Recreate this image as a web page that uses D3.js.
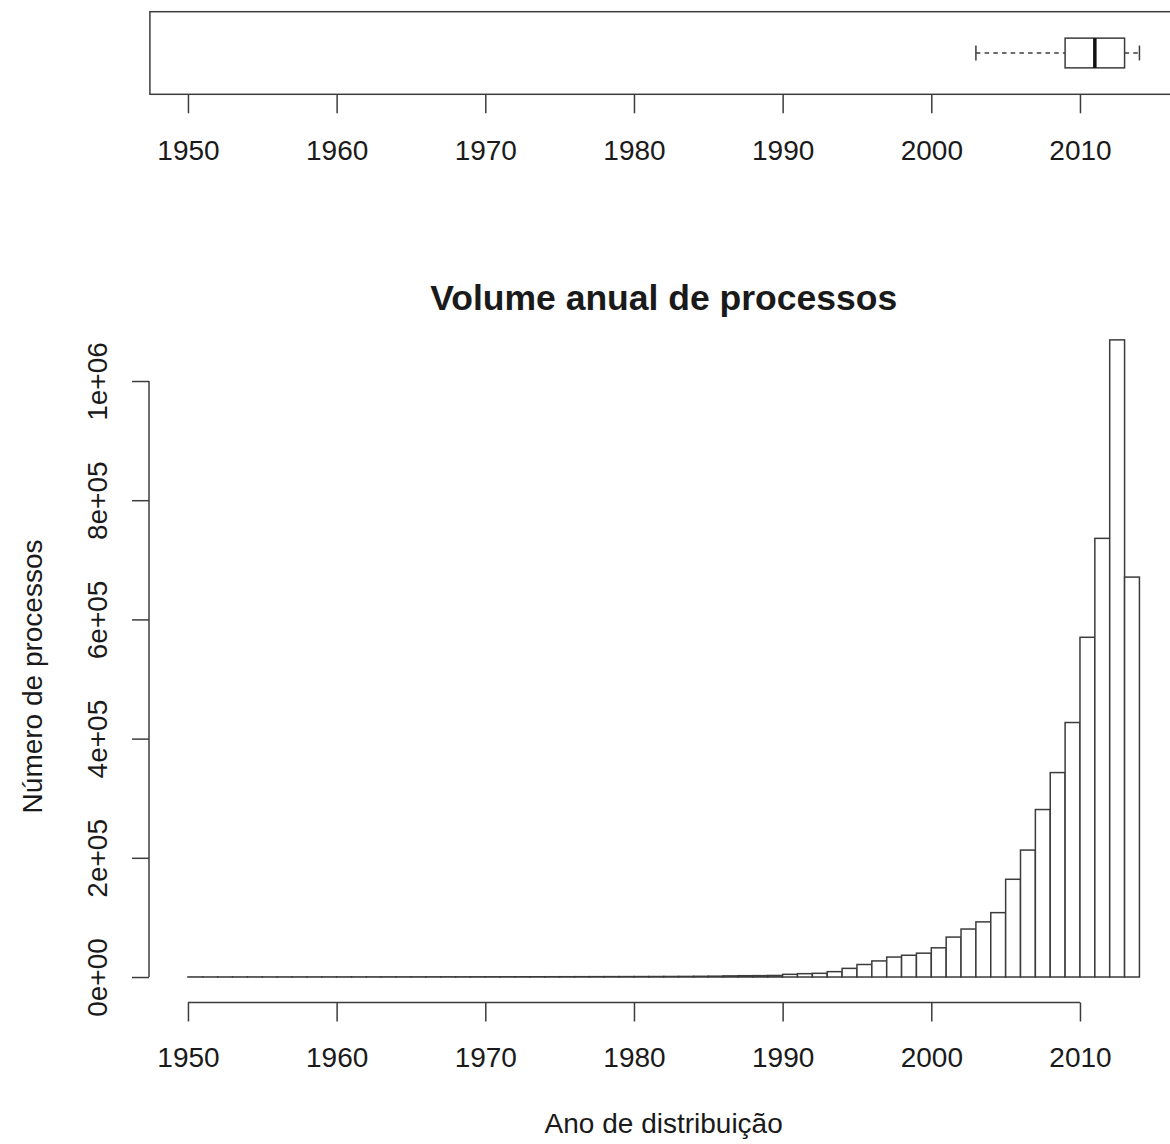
<!DOCTYPE html>
<html>
<head>
<meta charset="utf-8">
<script src="https://cdn.jsdelivr.net/npm/d3@7"></script>
<style>
  html, body { margin: 0; padding: 0; background: #fff; }
  svg { display: block; }
  text { font-family: "Liberation Sans", Arial, Helvetica, sans-serif; fill: #1a1a1a; }
</style>
</head>
<body>
<svg id="chart" width="1170" height="1144"></svg>
<script>
// Annual case volume, one bin per distribution year (bin start year)
const binStarts = d3.range(1950, 2014);
const counts = [
  120, 90, 110, 130, 150, 140, 160, 180, 170, 200,
  220, 210, 240, 260, 250, 280, 300, 320, 310, 350,
  380, 400, 420, 450, 480, 520, 560, 600, 650, 700,
  760, 820, 900, 1000, 1200, 1400, 1900, 2200, 2300, 2600,
  4500, 5600, 6200, 9000, 14500, 21000, 27000, 33500, 36500, 40000,
  49000, 67000, 80500, 92500, 108000, 164000, 213000, 281000, 343000, 427000,
  570000, 736000, 1069000, 671000
];

// Five-number summary of the distribution year: whisker low, Q1, median, Q3, whisker high
const boxStats = [2003, 2009, 2011, 2013, 2014];

const xTicks = [1950, 1960, 1970, 1980, 1990, 2000, 2010];
const yTicks = [0, 200000, 400000, 600000, 800000, 1000000];
const yTickLabels = ["0e+00", "2e+05", "4e+05", "6e+05", "8e+05", "1e+06"];

const titleText = "Volume anual de processos";
const xTitle = "Ano de distribuição";
const yTitle = "Número de processos";

const svg = d3.select("#chart");
const ink = "#3c3c3c";
const lw = 1.5;
const fs = 28;

// Shared year scale (range padded 4% each side)
const xMin = 1950, xMax = 2014, pad = (xMax - xMin) * 0.04;
const x = d3.scaleLinear().domain([xMin - pad, xMax + pad]).range([149.9, 1177.5]);

// Count scale for the histogram
const yMaxData = d3.max(counts);
const yPad = yMaxData * 0.04;
const y = d3.scaleLinear().domain([-yPad, yMaxData + yPad]).range([1002.5, 314.4]);

// ---------- Top panel: horizontal boxplot ----------
const topPanel = { top: 11.7, bottom: 94.3 };
const yb = d3.scaleLinear().domain([0.5, 1.5]).range([topPanel.bottom, topPanel.top]);
const boxG = svg.append("g");

boxG.append("rect")
  .attr("x", x.range()[0]).attr("y", topPanel.top)
  .attr("width", x.range()[1] - x.range()[0]).attr("height", topPanel.bottom - topPanel.top)
  .attr("fill", "none").attr("stroke", ink).attr("stroke-width", lw);

const bc = yb(1.0);
const bh = yb(0.82) - yb(1.18);
const [wLo, q1, med, q3, wHi] = boxStats;

// whiskers (dashed)
boxG.append("line").attr("x1", x(wLo)).attr("x2", x(q1)).attr("y1", bc).attr("y2", bc)
  .attr("stroke", ink).attr("stroke-width", lw).attr("stroke-dasharray", "4.5,4.2");
boxG.append("line").attr("x1", x(q3)).attr("x2", x(wHi)).attr("y1", bc).attr("y2", bc)
  .attr("stroke", ink).attr("stroke-width", lw).attr("stroke-dasharray", "4.5,4.2");
// staples
[wLo, wHi].forEach(v => {
  boxG.append("line").attr("x1", x(v)).attr("x2", x(v))
    .attr("y1", bc - bh / 4).attr("y2", bc + bh / 4)
    .attr("stroke", ink).attr("stroke-width", lw);
});
// box
boxG.append("rect").attr("x", x(q1)).attr("y", bc - bh / 2)
  .attr("width", x(q3) - x(q1)).attr("height", bh)
  .attr("fill", "#fff").attr("stroke", ink).attr("stroke-width", lw);
// median
boxG.append("line").attr("x1", x(med)).attr("x2", x(med))
  .attr("y1", bc - bh / 2).attr("y2", bc + bh / 2)
  .attr("stroke", "#111").attr("stroke-width", 3.5);

// top axis ticks and labels
const topAxis = d3.axisBottom(x).tickValues(xTicks).tickFormat(d3.format("d"))
  .tickSize(19).tickPadding(0).tickSizeOuter(0);
const gTopAxis = boxG.append("g").attr("transform", `translate(0,${topPanel.bottom})`).call(topAxis);
gTopAxis.select(".domain").remove();
gTopAxis.selectAll(".tick line").attr("stroke", ink).attr("stroke-width", lw);
gTopAxis.selectAll(".tick text").attr("y", 65.5).attr("dy", null)
  .attr("font-size", fs).attr("font-family", null).attr("fill", "#1a1a1a");

// ---------- Bottom panel: histogram ----------
const hist = svg.append("g");

hist.append("text").attr("x", (x.range()[0] + x.range()[1]) / 2).attr("y", 310)
  .attr("text-anchor", "middle").attr("font-size", 35.5).attr("font-weight", "bold")
  .text(titleText);

hist.selectAll("rect.bar").data(binStarts.map((s, i) => ({ s, v: counts[i] })))
  .join("rect").attr("class", "bar")
  .attr("x", d => x(d.s)).attr("width", d => x(d.s + 1) - x(d.s))
  .attr("y", d => y(d.v)).attr("height", d => y(0) - y(d.v))
  .attr("fill", "#fff").attr("stroke", ink).attr("stroke-width", lw);

// x axis
const xAxisY = y.range()[0];
const xAxis = d3.axisBottom(x).tickValues(xTicks).tickFormat(d3.format("d"))
  .tickSize(19).tickPadding(0).tickSizeOuter(0);
const gx = hist.append("g").attr("transform", `translate(0,${xAxisY})`).call(xAxis);
gx.select(".domain").remove();
gx.append("line").attr("x1", x(xTicks[0])).attr("x2", x(xTicks[xTicks.length - 1]))
  .attr("y1", 0).attr("y2", 0).attr("stroke", ink).attr("stroke-width", lw);
gx.selectAll(".tick line").attr("stroke", ink).attr("stroke-width", lw);
gx.selectAll(".tick text").attr("y", 64).attr("dy", null)
  .attr("font-size", fs).attr("font-family", null).attr("fill", "#1a1a1a");

// y axis
const yAxisX = x.range()[0] - 0.9;
const yAxis = d3.axisLeft(y).tickValues(yTicks).tickFormat((d, i) => yTickLabels[i])
  .tickSize(17).tickPadding(0).tickSizeOuter(0);
const gy = hist.append("g").attr("transform", `translate(${yAxisX},0)`).call(yAxis);
gy.select(".domain").remove();
gy.append("line").attr("x1", 0).attr("x2", 0)
  .attr("y1", y(yTicks[0])).attr("y2", y(yTicks[yTicks.length - 1]))
  .attr("stroke", ink).attr("stroke-width", lw);
gy.selectAll(".tick line").attr("stroke", ink).attr("stroke-width", lw);
gy.selectAll(".tick text")
  .attr("x", null).attr("dy", null).attr("text-anchor", "middle")
  .attr("transform", "translate(-42,0) rotate(-90)")
  .attr("font-size", fs).attr("font-family", null).attr("fill", "#1a1a1a");

// axis titles
hist.append("text").attr("x", (x.range()[0] + x.range()[1]) / 2).attr("y", 1133)
  .attr("text-anchor", "middle").attr("font-size", fs).text(xTitle);
hist.append("text").attr("transform", `translate(42,${(y(yTicks[0]) + y(yMaxData)) / 2 + 18}) rotate(-90)`)
  .attr("text-anchor", "middle").attr("font-size", fs).text(yTitle);
</script>
</body>
</html>
